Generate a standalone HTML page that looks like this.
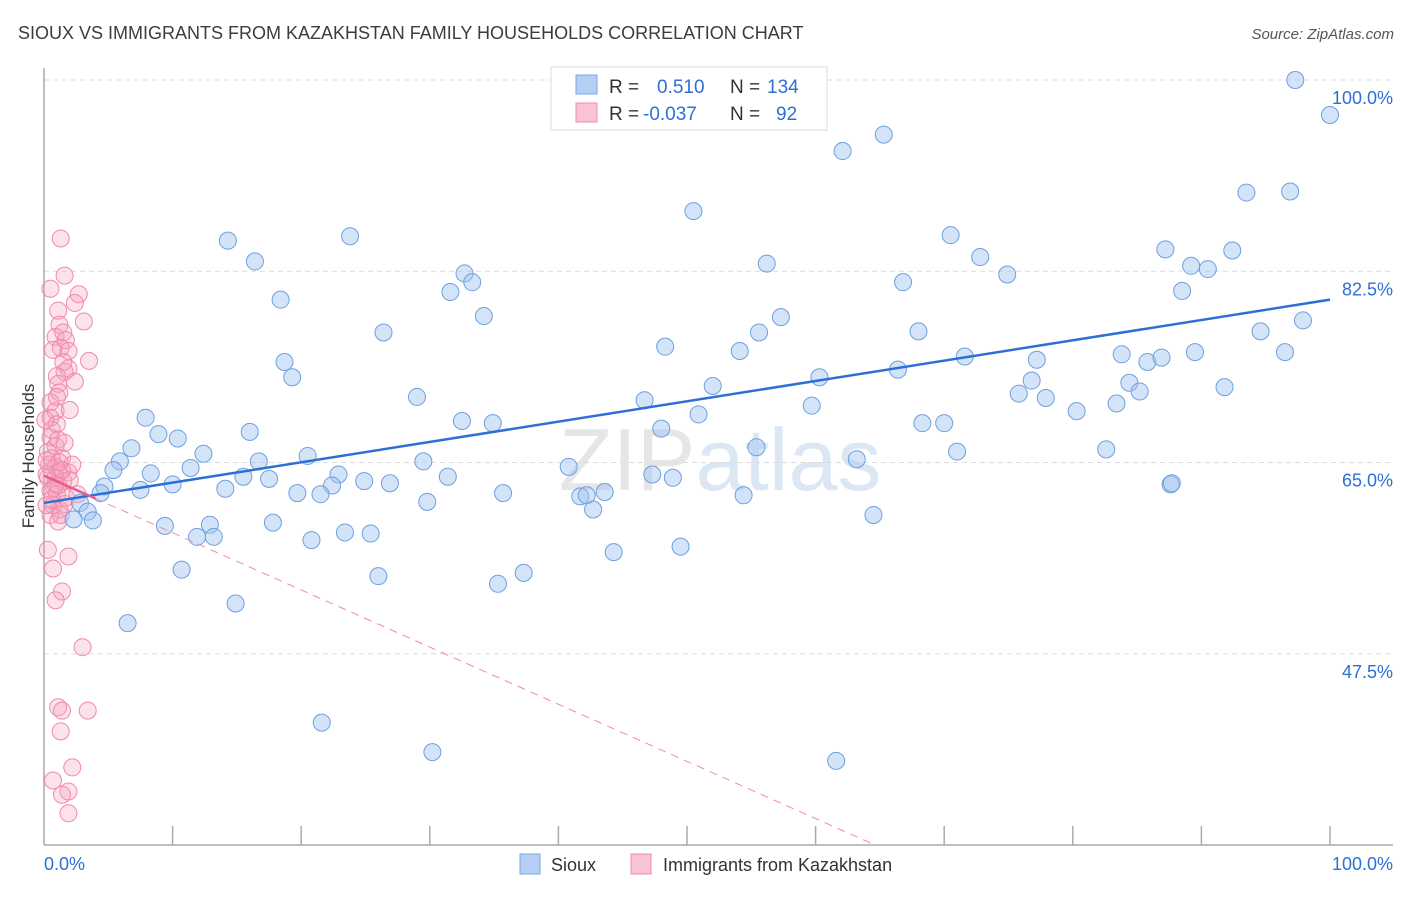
<!DOCTYPE html>
<html><head><meta charset="utf-8"><style>
body{margin:0;background:#fff;font-family:"Liberation Sans",sans-serif;}
svg text{font-family:"Liberation Sans",sans-serif;}
</style></head><body>
<svg id="chart" width="1406" height="892" xmlns="http://www.w3.org/2000/svg">
<text x="18" y="39" font-size="18" fill="#3c3c3c">SIOUX VS IMMIGRANTS FROM KAZAKHSTAN FAMILY HOUSEHOLDS CORRELATION CHART</text>
<text x="1394" y="39" font-size="15" fill="#555" text-anchor="end" font-style="italic">Source: ZipAtlas.com</text>
<text x="720" y="490" font-size="88" fill="#e8edf3" text-anchor="middle" font-family="Liberation Serif"><tspan fill="#e6e6e6">ZIP</tspan><tspan fill="#dce7f5" font-family="Liberation Sans">atlas</tspan></text>
<g id="grid"></g>
<g id="axes"></g>
<g id="pts"></g>
<g id="lines"></g>
<text transform="translate(34,456) rotate(-90)" font-size="17" fill="#333" text-anchor="middle">Family Households</text>
<g>
<rect x="551" y="67" width="276" height="63" fill="#fff" stroke="#ddd"/>
<rect x="576" y="75" width="21" height="19" fill="#b4cff3" stroke="#7aa7e6"/>
<text x="609" y="93" font-size="19" fill="#333">R =</text><text x="657" y="93" font-size="19" fill="#2e6fd6">0.510</text>
<text x="730" y="93" font-size="19" fill="#333">N =</text><text x="767" y="93" font-size="19" fill="#2e6fd6">134</text>
<rect x="576" y="103" width="21" height="19" fill="#f8c4d4" stroke="#f08aab"/>
<text x="609" y="120" font-size="19" fill="#333">R =</text><text x="643" y="120" font-size="19" fill="#2e6fd6">-0.037</text>
<text x="730" y="120" font-size="19" fill="#333">N =</text><text x="776" y="120" font-size="19" fill="#2e6fd6">92</text>
</g>
<g>
<rect x="520" y="854" width="20" height="20" fill="#b4cff3" stroke="#7aa7e6"/>
<text x="551" y="871" font-size="18" fill="#333">Sioux</text>
<rect x="631" y="854" width="20" height="20" fill="#f8c4d4" stroke="#f08aab"/>
<text x="663" y="871" font-size="18" fill="#333">Immigrants from Kazakhstan</text>
</g>
</svg>
<script>
const yTicks=[100,82.5,65,47.5];
const yTickLabels=["100.0%","82.5%","65.0%","47.5%"];
const xTickLabels=["0.0%","100.0%"];
const siouxX=[97.3,100,65.3,62.1,93.5,96.9,50.5,14.3,23.8,70.5,16.4,56.2,72.8,74.9,89.2,87.2,90.5,92.4,66.8,32.7,33.3,31.6,88.5,18.4,34.2,57.3,26.4,55.6,68.0,94.6,97.9,48.3,54.1,83.8,89.5,85.8,86.9,96.5,71.6,77.2,18.7,19.3,60.3,66.4,52.0,76.8,84.4,85.2,91.8,75.8,77.9,29.0,46.7,59.7,80.3,83.4,7.9,50.9,32.5,34.9,68.3,70.0,82.6,16.0,8.9,10.4,6.8,48.0,55.4,71.0,12.4,20.5,5.9,5.4,16.7,29.5,63.2,8.3,11.4,15.5,17.5,22.9,40.8,47.3,48.9,31.4,7.5,10.0,4.7,4.4,2.8,24.9,26.9,22.4,19.7,21.5,14.1,29.8,35.7,41.7,42.2,43.6,42.7,54.4,87.6,3.4,2.3,3.8,64.5,9.4,12.9,17.8,11.9,13.2,20.8,23.4,25.4,44.3,49.5,10.7,26.0,37.3,35.3,14.9,6.5,21.6,30.2,61.6,87.7];
const siouxY=[100,96.8,95.0,93.5,89.7,89.8,88.0,85.3,85.7,85.8,83.4,83.2,83.8,82.2,83.0,84.5,82.7,84.4,81.5,82.3,81.5,80.6,80.7,79.9,78.4,78.3,76.9,76.9,77.0,77.0,78.0,75.6,75.2,74.9,75.1,74.2,74.6,75.1,74.7,74.4,74.2,72.8,72.8,73.5,72.0,72.5,72.3,71.5,71.9,71.3,70.9,71.0,70.7,70.2,69.7,70.4,69.1,69.4,68.8,68.6,68.6,68.6,66.2,67.8,67.6,67.2,66.3,68.1,66.4,66.0,65.8,65.6,65.1,64.3,65.1,65.1,65.3,64.0,64.5,63.7,63.5,63.9,64.6,63.9,63.6,63.7,62.5,63.0,62.8,62.2,61.3,63.3,63.1,62.9,62.2,62.1,62.6,61.4,62.2,61.9,62.0,62.3,60.7,62.0,63.0,60.5,59.8,59.7,60.2,59.2,59.3,59.5,58.2,58.2,57.9,58.6,58.5,56.8,57.3,55.2,54.6,54.9,53.9,52.1,50.3,41.2,38.5,37.7,63.1];
const kazX=[1.3,1.6,0.5,2.7,1.1,2.4,3.1,1.2,0.9,1.5,1.7,3.5,1.3,1.9,1.6,1.9,1.1,1.2,0.5,0.9,0.5,1.0,0.5,0.9,0.3,1.4,0.9,1.2,1.9,0.3,0.9,1.5,2.0,0.5,1.0,2.6,0.7,1.2,1.6,0.5,1.1,0.3,0.7,1.9,1.4,0.9,3.0,1.1,1.4,3.4,1.3,2.2,0.7,1.9,1.4,1.9,0.9,0.4,0.6,0.2,0.6,1.1,1.6,0.2,1.2,0.8,1.7,2.2,0.1,1.0,0.7,1.5,1.0,0.2,1.1,1.4,0.6,1.3,2.4,2.0];
const kazY=[85.5,82.1,80.9,80.4,78.9,79.6,77.9,77.6,76.5,76.9,76.2,74.3,75.5,75.2,73.3,73.6,72.2,71.4,70.5,69.7,69.1,68.5,67.3,66.5,66.0,65.4,64.6,64.1,64.1,63.6,63.0,63.3,63.4,62.4,62.1,62.1,61.1,60.7,61.2,60.2,59.6,57.0,55.3,56.4,53.2,52.4,48.1,42.6,42.3,42.3,40.4,37.1,35.9,34.9,34.6,32.9,63.6,64.8,65.4,61.1,68.0,67.1,66.8,63.9,65.0,62.7,61.8,64.8,68.9,71.0,75.3,74.2,72.9,65.2,62.9,64.3,61.6,60.2,72.4,69.8];
const siouxTrend=[61.3,79.9];
const kazTrend=[63.8,11.5];

const NS="http://www.w3.org/2000/svg";
const X0=44,X1=1330,YTOP=80,YBOT=845,VMIN=30,VMAX=100;
function sx(v){return X0+(v/100)*(X1-X0);}
function sy(v){return YBOT-(v-VMIN)/(VMAX-VMIN)*(YBOT-YTOP);}
function mk(tag,attrs,parent){const e=document.createElementNS(NS,tag);for(const k in attrs)e.setAttribute(k,attrs[k]);parent.appendChild(e);return e;}
const grid=document.getElementById('grid'),axes=document.getElementById('axes'),pts=document.getElementById('pts'),lines=document.getElementById('lines');
yTicks.forEach((t,i)=>{
  const l=mk('line',{x1:X0,x2:1393,y1:sy(t),y2:sy(t),stroke:'#dcdcdc','stroke-dasharray':'5,4'},grid);
  
  
  const tx=mk('text',{x:1393,y:sy(t)+24,'font-size':18,fill:'#2e6fd6','text-anchor':'end'},axes);
  tx.textContent=yTickLabels[i];
  
  
});
mk('line',{x1:X0,x2:X0,y1:68,y2:YBOT,stroke:'#aaa','stroke-width':1.5},axes);
mk('line',{x1:X0,x2:1393,y1:YBOT,y2:YBOT,stroke:'#aaa','stroke-width':1.5},axes);
for(let i=1;i<=10;i++){
  const t=mk('line',{x1:sx(i*10),x2:sx(i*10),y1:826,y2:YBOT,stroke:'#aaa','stroke-width':1.5},axes);
  
  
}
const xl0=mk('text',{x:44,y:870,'font-size':18,fill:'#2e6fd6'},axes);xl0.textContent=xTickLabels[0];


const xl1=mk('text',{x:1393,y:870,'font-size':18,fill:'#2e6fd6','text-anchor':'end'},axes);xl1.textContent=xTickLabels[1];


kazX.forEach((x,i)=>{
  const c=mk('circle',{cx:sx(x),cy:sy(kazY[i]),r:8.5,fill:'rgba(245,160,190,0.3)',stroke:'#f08aab','stroke-width':1},pts);
  
  
});
siouxX.forEach((x,i)=>{
  const c=mk('circle',{cx:sx(x),cy:sy(siouxY[i]),r:8.5,fill:'rgba(160,196,240,0.45)',stroke:'#6f9fe0','stroke-width':1},pts);
  
  
});
const bl=mk('line',{x1:sx(0),y1:sy(siouxTrend[0]),x2:sx(100),y2:sy(siouxTrend[1]),stroke:'#2e6fd6','stroke-width':2.5},lines);


// pink dashed until bottom of plot
const kt=v=>kazTrend[0]+(kazTrend[1]-kazTrend[0])*v/100;
const xEnd=(VMIN-kazTrend[0])/(kazTrend[1]-kazTrend[0])*100;
const pd=mk('line',{x1:sx(4),y1:sy(kt(4)),x2:sx(xEnd),y2:sy(VMIN),stroke:'#f08aab','stroke-width':1,'stroke-dasharray':'8,6'},lines);


const ps=mk('line',{x1:sx(0),y1:sy(kt(0)),x2:sx(4),y2:sy(kt(4)),stroke:'#e85a8a','stroke-width':2.5},lines);


</script>
</body></html>
